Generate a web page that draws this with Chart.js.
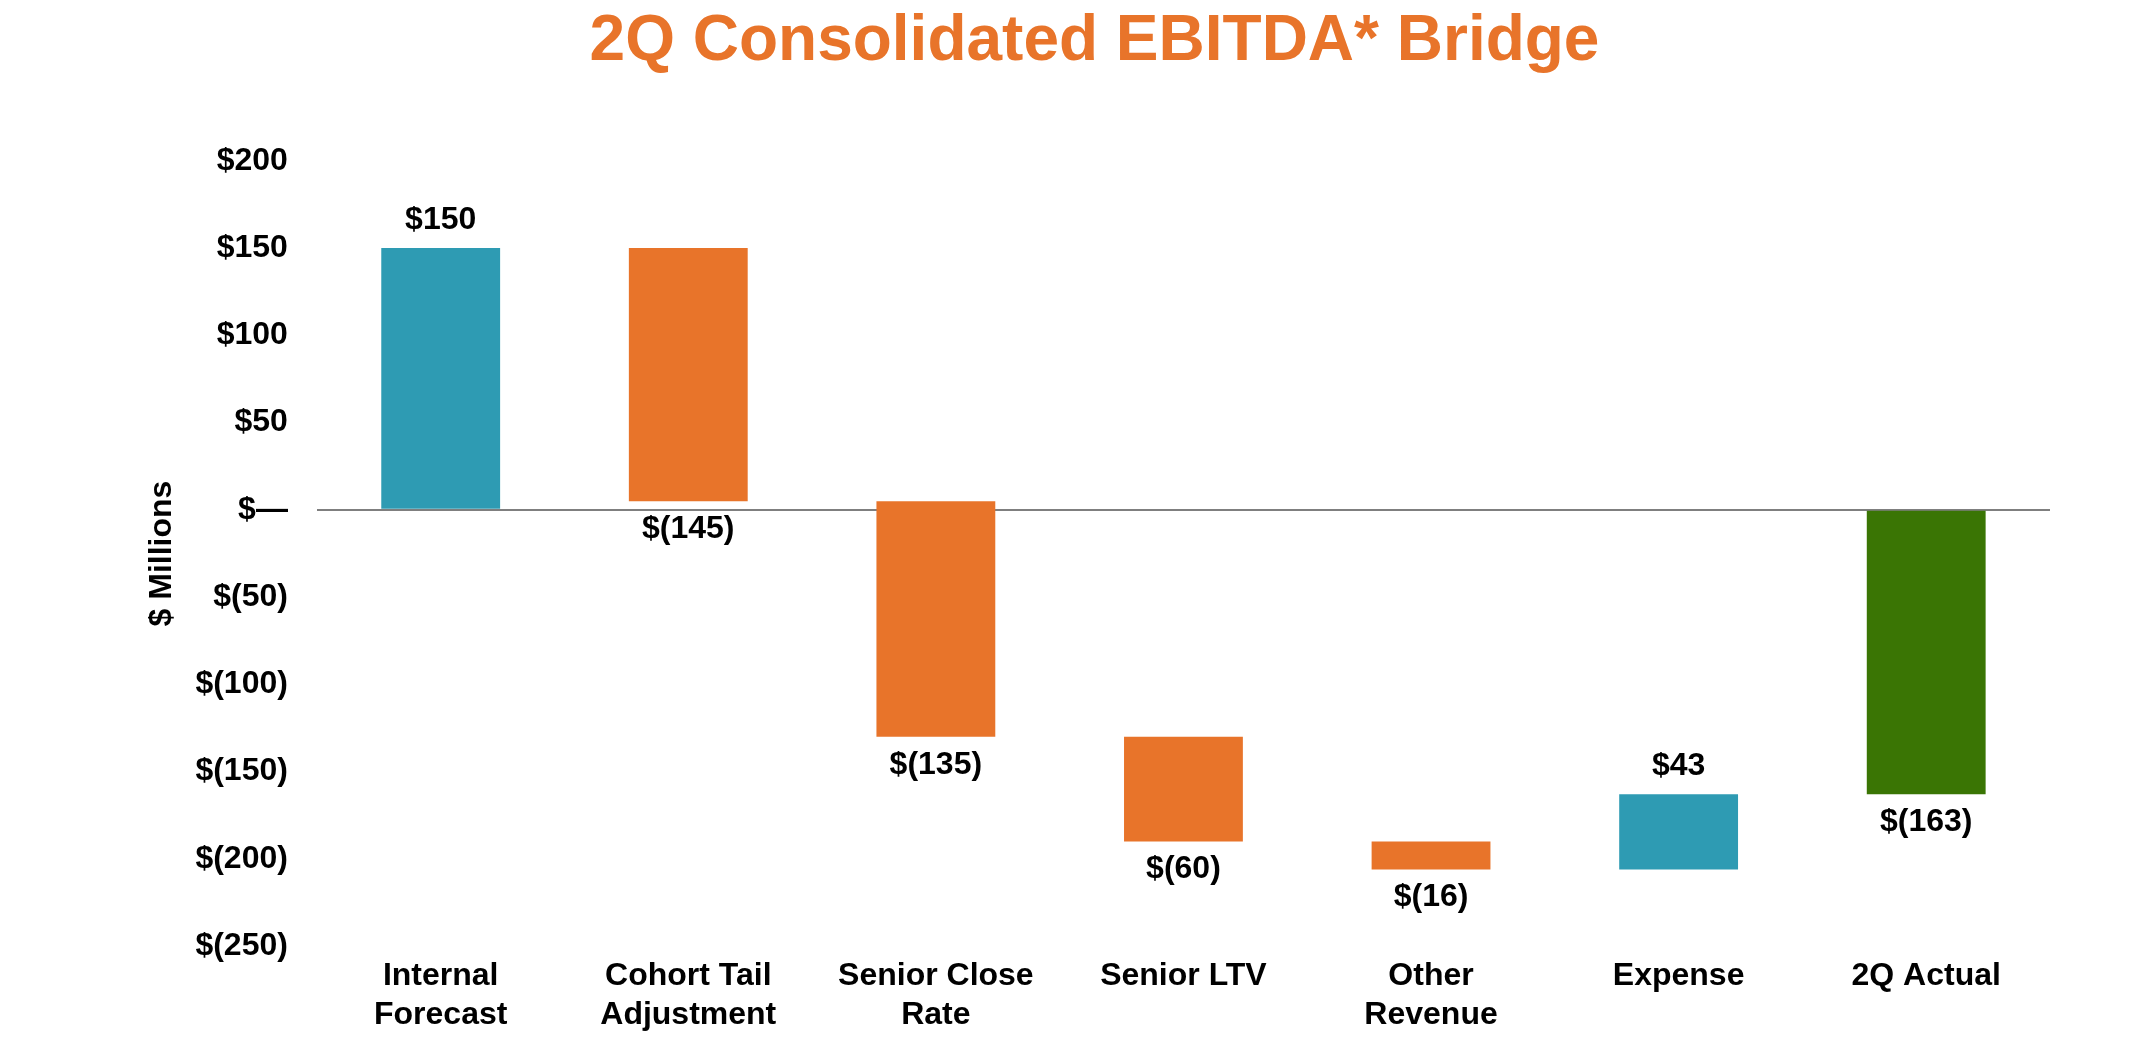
<!DOCTYPE html>
<html>
<head>
<meta charset="utf-8">
<title>2Q Consolidated EBITDA* Bridge</title>
<script src="https://cdn.jsdelivr.net/npm/chart.js@4.4.1/dist/chart.umd.min.js"></script>
<style>
  html, body { margin: 0; padding: 0; background: #fff; }
  #wrap { width: 2152px; height: 1052px; }
</style>
</head>
<body>
<div id="wrap"><canvas id="bridge" width="2152" height="1052"></canvas></div>
<script>
// bridge data, $ millions
const categories = [
  ['Internal', 'Forecast'],
  ['Cohort Tail', 'Adjustment'],
  ['Senior Close', 'Rate'],
  'Senior LTV',
  ['Other', 'Revenue'],
  'Expense',
  '2Q Actual'
];
const changes = [150, -145, -135, -60, -16, 43, -163];
// totals start from zero, the rest float on the running sum
const isTotal = [true, false, false, false, false, false, true];
const yMin = -250;
const yMax = 200;
const yStep = 50;

const TEAL = '#2E9BB3';
const ORANGE = '#E8742A';
const GREEN = '#3A7504';
const FONT = '"Liberation Sans", Arial, Helvetica, sans-serif';

// build the floating ranges for the waterfall
let running = 0;
const ranges = changes.map((c, i) => {
  if (isTotal[i]) {
    running = c;
    return [0, c];
  }
  const start = running;
  running += c;
  return [start, running];
});

const barColors = changes.map((c, i) => {
  if (i === changes.length - 1) return GREEN;
  return c >= 0 ? TEAL : ORANGE;
});

function money(v) {
  if (v === 0) return '$\u2014';
  return v > 0 ? '$' + v : '$(' + Math.abs(v) + ')';
}

// value labels above rising bars, below falling ones
const valueLabels = {
  id: 'valueLabels',
  afterDatasetsDraw(chart) {
    const ctx = chart.ctx;
    const meta = chart.getDatasetMeta(0);
    ctx.save();
    ctx.font = 'bold 32px ' + FONT;
    ctx.fillStyle = '#000';
    ctx.textAlign = 'center';
    ctx.textBaseline = 'middle';
    meta.data.forEach((bar, i) => {
      const top = Math.min(bar.y, bar.base);
      const bottom = Math.max(bar.y, bar.base);
      if (changes[i] >= 0) {
        ctx.fillText(money(changes[i]), bar.x, top - 28);
      } else {
        ctx.fillText(money(changes[i]), bar.x, bottom + 28);
      }
    });
    ctx.restore();
  }
};

new Chart(document.getElementById('bridge'), {
  type: 'bar',
  data: {
    labels: categories,
    datasets: [{
      data: ranges,
      backgroundColor: barColors,
      borderWidth: 0,
      barPercentage: 0.48,
      categoryPercentage: 1
    }]
  },
  options: {
    responsive: false,
    animation: false,
    devicePixelRatio: 1,
    layout: {
      padding: { left: 139, right: 102, top: 0, bottom: 7 }
    },
    plugins: {
      legend: { display: false },
      tooltip: { enabled: false },
      title: {
        display: true,
        text: '2Q Consolidated EBITDA* Bridge',
        color: ORANGE,
        font: { family: FONT, size: 64, weight: 'bold' },
        padding: { top: 4, bottom: 80 }
      }
    },
    scales: {
      x: {
        grid: { display: false, drawTicks: false },
        border: { display: false },
        ticks: {
          color: '#000',
          padding: 11,
          maxRotation: 0,
          autoSkip: false,
          font: { family: FONT, size: 32, weight: 'bold' }
        }
      },
      y: {
        min: yMin,
        max: yMax,
        border: { display: false },
        grid: {
          drawTicks: false,
          color: ctx => ctx.tick && ctx.tick.value === 0 ? '#7f7f7f' : 'rgba(0,0,0,0)',
          lineWidth: 2
        },
        ticks: {
          stepSize: yStep,
          color: '#000',
          padding: 29,
          font: { family: FONT, size: 32, weight: 'bold' },
          callback: v => money(v)
        },
        title: {
          display: true,
          text: '$ Millions',
          color: '#000',
          font: { family: FONT, size: 32, weight: 'bold' },
          padding: { top: 4, bottom: -15 }
        }
      }
    }
  },
  plugins: [valueLabels]
});
</script>
</body>
</html>
